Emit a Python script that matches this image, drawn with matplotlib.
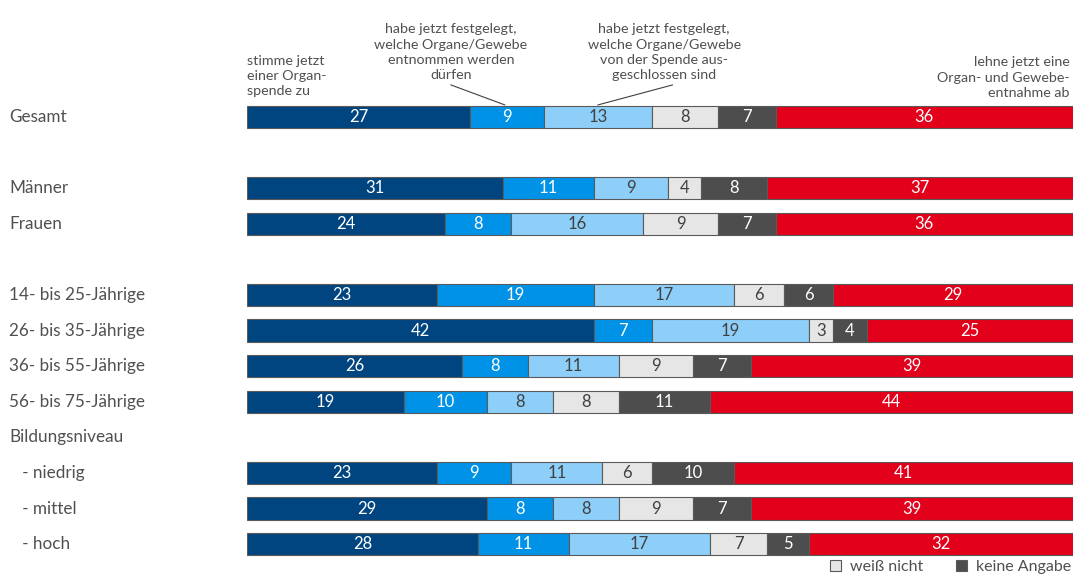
import matplotlib.pyplot as plt
from matplotlib.patches import Patch
from matplotlib.transforms import blended_transform_factory

plt.rcParams['font.family'] = ['Lato', 'DejaVu Sans']

rows = ['Gesamt', None, 'Männer', 'Frauen', None,
        '14- bis 25-Jährige', '26- bis 35-Jährige', '36- bis 55-Jährige', '56- bis 75-Jährige',
        'Bildungsniveau', '   - niedrig', '   - mittel', '   - hoch']

values = {
    'Gesamt': [27, 9, 13, 8, 7, 36],
    'Männer': [31, 11, 9, 4, 8, 37],
    'Frauen': [24, 8, 16, 9, 7, 36],
    '14- bis 25-Jährige': [23, 19, 17, 6, 6, 29],
    '26- bis 35-Jährige': [42, 7, 19, 3, 4, 25],
    '36- bis 55-Jährige': [26, 8, 11, 9, 7, 39],
    '56- bis 75-Jährige': [19, 10, 8, 8, 11, 44],
    '   - niedrig': [23, 9, 11, 6, 10, 41],
    '   - mittel': [29, 8, 8, 9, 7, 39],
    '   - hoch': [28, 11, 17, 7, 5, 32],
}

categories = [
    'stimme jetzt\neiner Organ-\nspende zu',
    'habe jetzt festgelegt,\nwelche Organe/Gewebe\nentnommen werden\ndürfen',
    'habe jetzt festgelegt,\nwelche Organe/Gewebe\nvon der Spende aus-\ngeschlossen sind',
    'weiß nicht',
    'keine Angabe',
    'lehne jetzt eine\nOrgan- und Gewebe-\nentnahme ab',
]
colors = ['#00457F', '#0092E6', '#8ECFFA', '#E6E6E6', '#4D4D4D', '#E2001A']
text_colors = ['white', 'white', '#404040', '#404040', 'white', 'white']
label_color = '#505050'

fig = plt.figure(figsize=(10.73, 5.78), dpi=100)
# bar area: x from 247px to 1073px, row slots 35.6px apart starting at 117px
ax = fig.add_axes([247 / 1073, 0, 826 / 1073, 1])
slot = 35.6
ax.set_xlim(0, 100)
ax.set_ylim((578 - 117) / slot, -117 / slot)
ax.axis('off')

lab_tr = blended_transform_factory(fig.transFigure, ax.transData)

for i, name in enumerate(rows):
    if name is None:
        continue
    ax.text(9 / 1073, i, name, transform=lab_tr, ha='left', va='center',
            fontsize=12.3, color=label_color)
    if name not in values:
        continue
    left = 0
    for k, v in enumerate(values[name]):
        ax.barh(i, v, left=left, height=0.63, color=colors[k],
                edgecolor='#5A5A5A', linewidth=0.8)
        ax.text(left + v / 2, i, str(v), ha='center', va='center',
                fontsize=12, color=text_colors[k])
        left += v

# category annotations above the first bar
ann = dict(fontsize=10.3, color=label_color, linespacing=1.34)
ax.text(0, -0.55, categories[0], ha='left', va='bottom', **ann)
ax.text(24.7, -1.0, categories[1], ha='center', va='bottom', **ann)
ax.text(50.5, -1.0, categories[2], ha='center', va='bottom', **ann)
ax.text(99.6, -0.5, categories[5], ha='right', va='bottom', **ann)
ax.plot([24.7, 31.2], [-0.9, -0.34], color='#404040', lw=0.8)
ax.plot([51.5, 42.5], [-0.9, -0.34], color='#404040', lw=0.8)

handles = [Patch(facecolor=colors[3], edgecolor='#5A5A5A', linewidth=0.8),
           Patch(facecolor=colors[4], edgecolor='#5A5A5A', linewidth=0.8)]
fig.legend(handles, [categories[3], categories[4]], ncol=2, frameon=False,
           loc='center right', bbox_to_anchor=(1.0, 1 - 567 / 578),
           handlelength=0.7, handleheight=0.7, handletextpad=0.6,
           columnspacing=2.0, fontsize=11.5, labelcolor=label_color,
           borderaxespad=0, borderpad=0.1)

fig.savefig('out.png', dpi=100)
